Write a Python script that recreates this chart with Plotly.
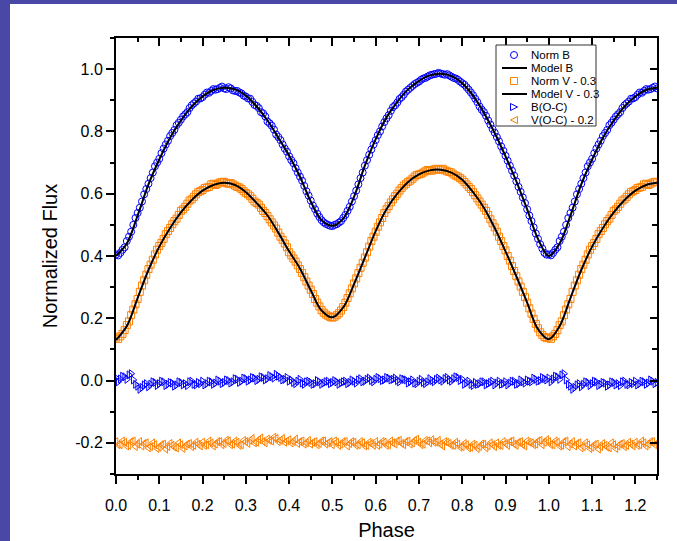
import plotly.graph_objects as go

# ---------------- data ----------------
# observation set 1
obs_phase_1 = [
    0.00, 0.01, 0.02, 0.03, 0.04, 0.05, 0.06, 0.07, 0.08, 0.09,
    0.10, 0.11, 0.12, 0.13, 0.14, 0.15, 0.16, 0.17, 0.18, 0.19,
    0.20, 0.21, 0.22, 0.23, 0.24, 0.25, 0.26, 0.27, 0.28, 0.29,
    0.30, 0.31, 0.32, 0.33, 0.34, 0.35, 0.36, 0.37, 0.38, 0.39,
    0.40, 0.41, 0.42, 0.43, 0.44, 0.45, 0.46, 0.47, 0.48, 0.49,
    0.50, 0.51, 0.52, 0.53, 0.54, 0.55, 0.56, 0.57, 0.58, 0.59,
    0.60, 0.61, 0.62, 0.63, 0.64, 0.65, 0.66, 0.67, 0.68, 0.69,
    0.70, 0.71, 0.72, 0.73, 0.74, 0.75, 0.76, 0.77, 0.78, 0.79,
    0.80, 0.81, 0.82, 0.83, 0.84, 0.85, 0.86, 0.87, 0.88, 0.89,
    0.90, 0.91, 0.92, 0.93, 0.94, 0.95, 0.96, 0.97, 0.98, 0.99,
]
norm_b_1 = [
    0.405, 0.410, 0.428, 0.462, 0.500, 0.538, 0.575, 0.615, 0.650, 0.688,
    0.712, 0.745, 0.770, 0.795, 0.820, 0.838, 0.855, 0.875, 0.890, 0.905,
    0.910, 0.925, 0.930, 0.934, 0.940, 0.938, 0.942, 0.932, 0.930, 0.922,
    0.912, 0.905, 0.885, 0.875, 0.858, 0.832, 0.818, 0.790, 0.772, 0.745,
    0.720, 0.698, 0.668, 0.642, 0.608, 0.578, 0.550, 0.525, 0.508, 0.500,
    0.496, 0.502, 0.512, 0.532, 0.558, 0.592, 0.630, 0.668, 0.708, 0.742,
    0.772, 0.800, 0.830, 0.852, 0.878, 0.893, 0.910, 0.928, 0.940, 0.952,
    0.960, 0.970, 0.976, 0.982, 0.985, 0.986, 0.982, 0.980, 0.972, 0.966,
    0.955, 0.942, 0.925, 0.905, 0.880, 0.862, 0.835, 0.808, 0.782, 0.752,
    0.722, 0.690, 0.658, 0.622, 0.588, 0.550, 0.512, 0.472, 0.438, 0.410,
]
norm_v_minus_03_1 = [
    0.138, 0.142, 0.162, 0.190, 0.228, 0.262, 0.305, 0.340, 0.372, 0.405,
    0.432, 0.455, 0.480, 0.502, 0.520, 0.545, 0.558, 0.578, 0.590, 0.605,
    0.612, 0.620, 0.630, 0.628, 0.636, 0.638, 0.632, 0.630, 0.622, 0.615,
    0.602, 0.592, 0.575, 0.565, 0.545, 0.528, 0.508, 0.488, 0.462, 0.440,
    0.412, 0.392, 0.370, 0.345, 0.318, 0.292, 0.262, 0.238, 0.218, 0.208,
    0.202, 0.210, 0.225, 0.250, 0.280, 0.312, 0.345, 0.378, 0.412, 0.448,
    0.478, 0.508, 0.538, 0.560, 0.582, 0.600, 0.618, 0.632, 0.642, 0.655,
    0.662, 0.668, 0.676, 0.674, 0.680, 0.678, 0.675, 0.670, 0.662, 0.655,
    0.645, 0.630, 0.615, 0.595, 0.575, 0.555, 0.532, 0.505, 0.478, 0.448,
    0.418, 0.385, 0.352, 0.318, 0.285, 0.250, 0.215, 0.182, 0.155, 0.140,
]
b_oc_1 = [
    0.008, 0.005, 0.012, 0.018, 0.002, -0.018, -0.022, -0.010, -0.012, -0.006,
    -0.010, -0.004, -0.012, -0.008, -0.014, -0.006, -0.010, -0.004, -0.012, -0.006,
    -0.002, -0.010, -0.004, -0.008, -0.002, -0.006, 0.000, -0.004, 0.004, -0.002,
    0.006, 0.002, 0.008, 0.004, 0.010, 0.006, 0.012, 0.020, 0.010, 0.004,
    -0.002, -0.006, -0.002, -0.008, -0.004, -0.006, -0.010, -0.004, -0.008, -0.002,
    -0.006, -0.004, -0.008, -0.002, -0.006, -0.002, 0.002, -0.004, 0.004, 0.000,
    0.004, 0.006, 0.002, 0.008, 0.004, 0.000, 0.006, 0.002, -0.004, -0.008,
    -0.002, -0.006, -0.004, 0.000, 0.004, 0.002, 0.006, 0.002, 0.006, 0.010,
    0.004, -0.008, -0.012, -0.006, -0.010, -0.004, -0.010, -0.002, -0.008, -0.012,
    -0.004, -0.008, -0.002, -0.010, -0.004, 0.002, -0.004, 0.004, 0.000, 0.006,
]
v_oc_minus_02_1 = [
    -0.196, -0.206, -0.198, -0.208, -0.194, -0.204, -0.210, -0.200, -0.212, -0.206,
    -0.214, -0.204, -0.212, -0.208, -0.216, -0.206, -0.210, -0.202, -0.208, -0.204,
    -0.198, -0.206, -0.200, -0.204, -0.196, -0.202, -0.194, -0.204, -0.198, -0.206,
    -0.196, -0.192, -0.200, -0.190, -0.196, -0.188, -0.194, -0.186, -0.192, -0.198,
    -0.190, -0.196, -0.202, -0.194, -0.200, -0.204, -0.196, -0.202, -0.194, -0.200,
    -0.206, -0.198, -0.204, -0.196, -0.202, -0.198, -0.206, -0.200, -0.208, -0.202,
    -0.196, -0.204, -0.198, -0.206, -0.200, -0.194, -0.202, -0.196, -0.204, -0.192,
    -0.198, -0.204, -0.194, -0.190, -0.198, -0.204, -0.196, -0.202, -0.208, -0.204,
    -0.212, -0.206, -0.214, -0.208, -0.212, -0.204, -0.210, -0.206, -0.200, -0.208,
    -0.202, -0.196, -0.204, -0.198, -0.206, -0.194, -0.200, -0.204, -0.192, -0.198,
]

# observation set 2
obs_phase_2 = [
    0.005, 0.015, 0.025, 0.035, 0.045, 0.055, 0.065, 0.075, 0.085, 0.095,
    0.105, 0.115, 0.125, 0.135, 0.145, 0.155, 0.165, 0.175, 0.185, 0.195,
    0.205, 0.215, 0.225, 0.235, 0.245, 0.255, 0.265, 0.275, 0.285, 0.295,
    0.305, 0.315, 0.325, 0.335, 0.345, 0.355, 0.365, 0.375, 0.385, 0.395,
    0.405, 0.415, 0.425, 0.435, 0.445, 0.455, 0.465, 0.475, 0.485, 0.495,
    0.505, 0.515, 0.525, 0.535, 0.545, 0.555, 0.565, 0.575, 0.585, 0.595,
    0.605, 0.615, 0.625, 0.635, 0.645, 0.655, 0.665, 0.675, 0.685, 0.695,
    0.705, 0.715, 0.725, 0.735, 0.745, 0.755, 0.765, 0.775, 0.785, 0.795,
    0.805, 0.815, 0.825, 0.835, 0.845, 0.855, 0.865, 0.875, 0.885, 0.895,
    0.905, 0.915, 0.925, 0.935, 0.945, 0.955, 0.965, 0.975, 0.985, 0.995,
]
norm_b_2 = [
    0.402, 0.420, 0.448, 0.478, 0.522, 0.555, 0.598, 0.632, 0.668, 0.700,
    0.730, 0.758, 0.785, 0.805, 0.828, 0.848, 0.862, 0.884, 0.896, 0.906,
    0.918, 0.924, 0.936, 0.936, 0.944, 0.936, 0.938, 0.930, 0.925, 0.915,
    0.906, 0.895, 0.882, 0.862, 0.848, 0.826, 0.806, 0.782, 0.758, 0.735,
    0.708, 0.682, 0.655, 0.625, 0.594, 0.562, 0.536, 0.515, 0.503, 0.497,
    0.500, 0.507, 0.522, 0.545, 0.575, 0.610, 0.650, 0.690, 0.725, 0.758,
    0.788, 0.816, 0.842, 0.866, 0.884, 0.904, 0.918, 0.934, 0.946, 0.956,
    0.966, 0.972, 0.980, 0.984, 0.988, 0.984, 0.984, 0.976, 0.970, 0.960,
    0.950, 0.934, 0.916, 0.894, 0.870, 0.850, 0.822, 0.796, 0.768, 0.738,
    0.706, 0.674, 0.640, 0.606, 0.570, 0.530, 0.492, 0.455, 0.424, 0.404,
]
norm_v_minus_03_2 = [
    0.134, 0.150, 0.178, 0.210, 0.245, 0.285, 0.322, 0.358, 0.388, 0.420,
    0.442, 0.470, 0.490, 0.512, 0.532, 0.550, 0.568, 0.582, 0.598, 0.608,
    0.618, 0.622, 0.632, 0.632, 0.638, 0.634, 0.634, 0.626, 0.620, 0.608,
    0.598, 0.584, 0.570, 0.555, 0.538, 0.518, 0.498, 0.475, 0.452, 0.428,
    0.402, 0.382, 0.358, 0.332, 0.305, 0.278, 0.250, 0.226, 0.212, 0.204,
    0.205, 0.216, 0.236, 0.265, 0.296, 0.328, 0.362, 0.395, 0.430, 0.462,
    0.494, 0.522, 0.550, 0.572, 0.592, 0.610, 0.626, 0.638, 0.648, 0.660,
    0.664, 0.672, 0.675, 0.678, 0.677, 0.680, 0.672, 0.668, 0.658, 0.650,
    0.638, 0.622, 0.605, 0.585, 0.565, 0.545, 0.518, 0.492, 0.462, 0.432,
    0.400, 0.368, 0.335, 0.302, 0.268, 0.232, 0.198, 0.168, 0.146, 0.136,
]
b_oc_2 = [
    -0.004, 0.014, 0.004, 0.022, -0.012, -0.028, -0.014, -0.020, -0.004, -0.016,
    -0.002, -0.016, -0.006, -0.018, -0.004, -0.014, -0.016, -0.002, -0.014, -0.010,
    -0.014, -0.002, -0.012, 0.002, -0.010, 0.002, -0.008, 0.006, -0.006, 0.008,
    -0.002, 0.010, 0.000, 0.012, 0.002, 0.016, 0.008, 0.014, 0.002, 0.010,
    0.002, -0.010, 0.004, -0.012, -0.002, -0.012, 0.000, -0.012, -0.004, -0.010,
    0.000, -0.012, -0.004, -0.010, 0.002, -0.008, 0.006, -0.002, 0.008, -0.004,
    0.010, 0.000, 0.010, 0.002, 0.008, -0.004, 0.004, -0.008, 0.002, -0.010,
    0.004, -0.010, 0.006, -0.004, 0.008, -0.002, 0.010, -0.002, 0.012, 0.000,
    -0.012, -0.002, -0.016, -0.012, -0.004, -0.014, -0.006, -0.014, -0.002, -0.010,
    -0.014, -0.002, -0.012, 0.002, -0.008, -0.002, 0.008, -0.002, 0.010, 0.002,
]
v_oc_minus_02_2 = [
    -0.206, -0.194, -0.210, -0.196, -0.212, -0.196, -0.202, -0.216, -0.200, -0.218,
    -0.206, -0.220, -0.202, -0.214, -0.200, -0.218, -0.204, -0.212, -0.198, -0.210,
    -0.208, -0.194, -0.210, -0.196, -0.206, -0.192, -0.206, -0.194, -0.208, -0.192,
    -0.202, -0.186, -0.198, -0.184, -0.200, -0.192, -0.182, -0.196, -0.186, -0.194,
    -0.200, -0.188, -0.196, -0.204, -0.192, -0.198, -0.206, -0.194, -0.204, -0.196,
    -0.194, -0.208, -0.196, -0.210, -0.196, -0.208, -0.196, -0.210, -0.198, -0.208,
    -0.208, -0.196, -0.208, -0.194, -0.204, -0.192, -0.206, -0.194, -0.200, -0.188,
    -0.206, -0.192, -0.200, -0.198, -0.192, -0.210, -0.198, -0.208, -0.198, -0.214,
    -0.202, -0.216, -0.204, -0.218, -0.204, -0.216, -0.200, -0.212, -0.208, -0.196,
    -0.208, -0.194, -0.208, -0.196, -0.210, -0.198, -0.206, -0.194, -0.206, -0.190,
]

model_phase = [
    0.000, 0.025, 0.050, 0.075, 0.100, 0.125, 0.150, 0.175, 0.200, 0.225,
    0.250, 0.275, 0.300, 0.325, 0.350, 0.375, 0.400, 0.425, 0.450, 0.475,
    0.500, 0.525, 0.550, 0.575, 0.600, 0.625, 0.650, 0.675, 0.700, 0.725,
    0.750, 0.775, 0.800, 0.825, 0.850, 0.875, 0.900, 0.925, 0.950, 0.975,
    1.000, 1.025, 1.050, 1.075, 1.100, 1.125, 1.150, 1.175, 1.200, 1.225,
    1.250,
]
model_b = [
    0.400, 0.440, 0.530, 0.630, 0.710, 0.780, 0.835, 0.880, 0.912, 0.933,
    0.940, 0.935, 0.915, 0.880, 0.835, 0.780, 0.722, 0.655, 0.575, 0.515,
    0.497, 0.520, 0.590, 0.690, 0.775, 0.845, 0.895, 0.935, 0.962, 0.980,
    0.985, 0.978, 0.955, 0.915, 0.860, 0.795, 0.720, 0.640, 0.550, 0.455,
    0.400, 0.440, 0.530, 0.630, 0.710, 0.780, 0.835, 0.880, 0.912, 0.933,
    0.940,
]
model_v_minus_03 = [
    0.130, 0.175, 0.265, 0.355, 0.430, 0.490, 0.540, 0.580, 0.610, 0.628,
    0.635, 0.628, 0.605, 0.570, 0.530, 0.475, 0.415, 0.360, 0.290, 0.225,
    0.203, 0.235, 0.310, 0.395, 0.480, 0.550, 0.600, 0.638, 0.662, 0.675,
    0.677, 0.668, 0.645, 0.605, 0.555, 0.490, 0.415, 0.335, 0.250, 0.165,
    0.133, 0.175, 0.265, 0.355, 0.430, 0.490, 0.540, 0.580, 0.610, 0.628,
    0.635,
]

series_names = ["Norm B", "Model B", "Norm V - 0.3", "Model V - 0.3",
                "B(O-C)", "V(O-C) - 0.2"]

x_tickvals = [0.0, 0.1, 0.2, 0.3, 0.4, 0.5, 0.6, 0.7, 0.8, 0.9, 1.0, 1.1, 1.2]
x_ticktext = ["0.0", "0.1", "0.2", "0.3", "0.4", "0.5", "0.6", "0.7", "0.8",
              "0.9", "1.0", "1.1", "1.2"]
y_tickvals = [-0.2, 0.0, 0.2, 0.4, 0.6, 0.8, 1.0]
y_ticktext = ["-0.2", "0.0", "0.2", "0.4", "0.6", "0.8", "1.0"]

# Phased light curve: both observation sets are plotted, and the
# phases 0.00-0.25 are repeated after phase 1.0 (standard phase folding)
obs_phase = obs_phase_1 + obs_phase_2


def extend(vals):
    return vals + [v for p, v in zip(obs_phase, vals) if p <= 0.25]


ext_phase = obs_phase + [p + 1.0 for p in obs_phase if p <= 0.25]
norm_b = norm_b_1 + norm_b_2
norm_v_minus_03 = norm_v_minus_03_1 + norm_v_minus_03_2
b_oc = b_oc_1 + b_oc_2
v_oc_minus_02 = v_oc_minus_02_1 + v_oc_minus_02_2

BLUE = "rgb(0,0,255)"
ORANGE = "rgb(255,128,0)"
FONT = "Liberation Sans, Arial, sans-serif"

# ---------------- layout geometry ----------------
W, H = 677, 541
L, R, T, B = 116, 20, 38, 67
PW, PH = W - L - R, H - T - B


def px2x(px):
    return (px - L) / PW


def py2y(py):
    return (T + PH - py) / PH


fig = go.Figure()

fig.add_trace(go.Scatter(
    x=ext_phase, y=extend(norm_b), mode="markers", name=series_names[0],
    marker=dict(symbol="circle-open", size=7, color=BLUE, line=dict(width=1))))
fig.add_trace(go.Scatter(
    x=model_phase, y=model_b, mode="lines", name=series_names[1],
    line=dict(color="black", width=2, shape="spline", smoothing=1.0),
    xaxis="x2", yaxis="y"))
fig.add_trace(go.Scatter(
    x=ext_phase, y=extend(norm_v_minus_03), mode="markers", name=series_names[2],
    marker=dict(symbol="square-open", size=7, color=ORANGE, line=dict(width=1))))
fig.add_trace(go.Scatter(
    x=model_phase, y=model_v_minus_03, mode="lines", name=series_names[3],
    line=dict(color="black", width=2, shape="spline", smoothing=1.0),
    xaxis="x", yaxis="y2"))
fig.add_trace(go.Scatter(
    x=ext_phase, y=extend(b_oc), mode="markers", name=series_names[4],
    marker=dict(symbol="triangle-right-open", size=7, color=BLUE, line=dict(width=1))))
fig.add_trace(go.Scatter(
    x=ext_phase, y=extend(v_oc_minus_02), mode="markers", name=series_names[5],
    marker=dict(symbol="triangle-left-open", size=7, color=ORANGE, line=dict(width=1))))

# ---------------- background decoration (blue frame, left & top) ----------------
shapes = []
BG = "#4a48a6"
shapes.append(dict(type="rect", xref="paper", yref="paper", layer="below",
                   x0=px2x(0), x1=px2x(10), y0=py2y(H), y1=py2y(0),
                   fillcolor=BG, line=dict(width=0)))
shapes.append(dict(type="rect", xref="paper", yref="paper", layer="below",
                   x0=px2x(0), x1=px2x(W), y0=py2y(4), y1=py2y(0),
                   fillcolor=BG, line=dict(width=0)))

# ---------------- manual legend ----------------
leg_x0, leg_x1, leg_y0, leg_y1 = 496, 596, 45, 126
shapes.append(dict(type="rect", xref="paper", yref="paper",
                   x0=px2x(leg_x0), x1=px2x(leg_x1), y0=py2y(leg_y1), y1=py2y(leg_y0),
                   fillcolor="white", line=dict(color="#333333", width=1)))
rows = [55, 68, 81, 94, 107, 120]
sym_x = 514
annotations = []
for i, (name, ry) in enumerate(zip(series_names, rows)):
    ax, ay = px2x(sym_x), py2y(ry)
    if i == 0:
        shapes.append(dict(type="circle", xref="paper", yref="paper",
                           xsizemode="pixel", ysizemode="pixel", xanchor=ax, yanchor=ay,
                           x0=-3.5, x1=3.5, y0=-3.5, y1=3.5,
                           line=dict(color=BLUE, width=1)))
    elif i in (1, 3):
        shapes.append(dict(type="line", xref="paper", yref="paper",
                           x0=px2x(502), x1=px2x(527), y0=ay, y1=ay,
                           line=dict(color="black", width=2)))
    elif i == 2:
        shapes.append(dict(type="rect", xref="paper", yref="paper",
                           xsizemode="pixel", ysizemode="pixel", xanchor=ax, yanchor=ay,
                           x0=-3.5, x1=3.5, y0=-3.5, y1=3.5,
                           line=dict(color=ORANGE, width=1)))
    elif i == 4:
        shapes.append(dict(type="path", xref="paper", yref="paper",
                           xsizemode="pixel", ysizemode="pixel", xanchor=ax, yanchor=ay,
                           path="M -3.5,3.5 L 3.5,0 L -3.5,-3.5 Z",
                           line=dict(color=BLUE, width=1)))
    else:
        shapes.append(dict(type="path", xref="paper", yref="paper",
                           xsizemode="pixel", ysizemode="pixel", xanchor=ax, yanchor=ay,
                           path="M 3.5,3.5 L -3.5,0 L 3.5,-3.5 Z",
                           line=dict(color=ORANGE, width=1)))
    annotations.append(dict(xref="paper", yref="paper", x=px2x(529), y=ay,
                            xanchor="left", yanchor="middle", showarrow=False,
                            text=name, font=dict(family=FONT, size=11.5, color="black")))

axis_common = dict(showgrid=False, zeroline=False, showline=True,
                   linecolor="black", linewidth=2, automargin=False)

fig.update_layout(
    template="none",
    width=W, height=H,
    margin=dict(l=L, r=R, t=T, b=B, autoexpand=False),
    paper_bgcolor="white", plot_bgcolor="rgba(0,0,0,0)",
    showlegend=False,
    font=dict(family=FONT, size=16, color="black"),
    shapes=shapes, annotations=annotations,
    xaxis=dict(
        **axis_common, range=[0, 1.25], tickmode="array",
        tickvals=x_tickvals, ticktext=x_ticktext,
        ticks="outside", ticklen=8, tickwidth=1.5, tickcolor="black",
        ticklabelstandoff=8,
        minor=dict(ticks="outside", ticklen=4, tickwidth=1.5, tickcolor="black",
                   dtick=0.05, tick0=0, showgrid=False),
        tickfont=dict(family=FONT, size=16),
        title=dict(text="Phase", font=dict(family=FONT, size=20), standoff=14),
    ),
    xaxis2=dict(
        **axis_common, range=[0, 1.25], overlaying="x", side="top", anchor="y",
        matches="x", tickmode="array", tickvals=x_tickvals,
        ticks="inside", ticklen=8, tickwidth=1.5, tickcolor="black",
        showticklabels=False,
        minor=dict(ticks="inside", ticklen=4, tickwidth=1.5, tickcolor="black",
                   dtick=0.05, tick0=0, showgrid=False),
    ),
    yaxis=dict(
        **axis_common, range=[-0.3, 1.1], tickmode="array",
        tickvals=y_tickvals, ticktext=y_ticktext,
        ticks="outside", ticklen=8, tickwidth=1.5, tickcolor="black",
        minor=dict(ticks="outside", ticklen=4, tickwidth=1.5, tickcolor="black",
                   dtick=0.1, tick0=0, showgrid=False),
        tickfont=dict(family=FONT, size=16),
        title=dict(text="Normalized Flux", font=dict(family=FONT, size=20), standoff=12),
    ),
    yaxis2=dict(
        **axis_common, range=[-0.3, 1.1], overlaying="y", side="right", anchor="x",
        matches="y", tickmode="array", tickvals=y_tickvals,
        ticks="inside", ticklen=7, tickwidth=1.5, tickcolor="black",
        showticklabels=False,
        minor=dict(ticks="inside", ticklen=5, tickwidth=1.5, tickcolor="black",
                   dtick=0.1, tick0=0, showgrid=False),
    ),
)

fig.write_html(
    "out.html", config={"displayModeBar": False},
    post_script=("document.body.style.margin='0';"
                 "document.body.style.overflow='hidden';"
                 "document.documentElement.style.overflow='hidden';"))
